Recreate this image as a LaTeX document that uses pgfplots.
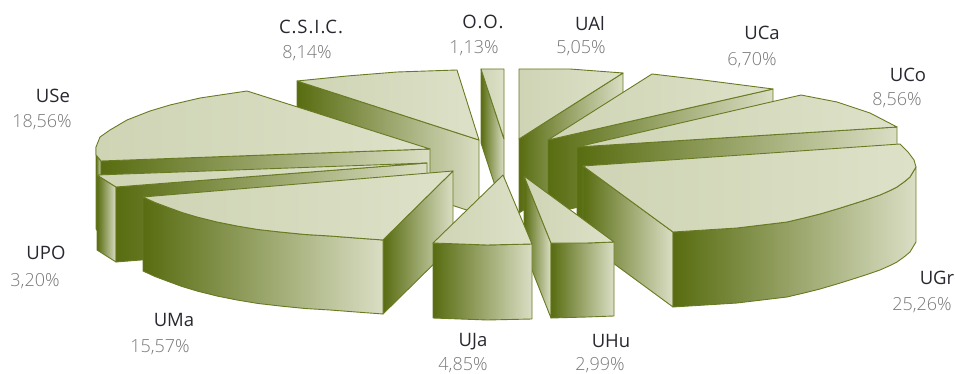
\documentclass[border=0pt]{standalone}
\usepackage{pgfplots}
\pgfplotsset{compat=1.18}
\usepackage{fontspec}
\setmainfont{Open Sans}
\newfontfamily\thin{Open Sans Light}
\definecolor{edge}{RGB}{104,122,34}
\definecolor{wdark}{RGB}{88,108,16}
\definecolor{wmid}{RGB}{142,156,88}
\definecolor{wlight}{RGB}{218,222,196}
\definecolor{tleft}{RGB}{206,212,180}
\definecolor{tright}{RGB}{221,225,200}
\definecolor{lab}{RGB}{40,40,48}
\definecolor{pct}{RGB}{120,120,120}
\pgfplotsset{
  top/.style={draw=edge,line width=0.9pt,line join=round,left color=tleft,right color=tright},
  wall/.style={draw=edge,line width=0.9pt,line join=round,left color=wdark,middle color=wmid,right color=wlight},
}
\newcommand{\slab}[6]{%
  \node[text=lab,font=\fontsize{18.5}{20}\selectfont,inner sep=0pt] at (axis cs:#1,#2) {#3};
  \node[text=pct,font=\thin\fontsize{18}{20}\selectfont,inner sep=0pt] at (axis cs:#4,#5) {#6};}
\begin{document}
\begin{tikzpicture}
\clip (0,0) rectangle (955pt,374pt);
\begin{axis}[
  at={(0,0)},anchor=south west,
  scale only axis,width=955pt,height=374pt,
  xmin=0,xmax=955,ymin=0,ymax=374,y dir=reverse,
  hide axis,clip=false,
]
% C.S.I.C.
\addplot[wall] coordinates {(297,81)(479,140)(479,214)(297,155)} --cycle;
\addplot[top] coordinates {(297,81)(347,76)(397,72)(457,70)(479,140)} --cycle;
% O.O.
\addplot[wall] coordinates {(481,69)(504,139)(504,213)(481,143)} --cycle;
\addplot[top] coordinates {(481,69)(504,69)(504,139)} --cycle;
% UAl
\addplot[wall] coordinates {(519,139)(623,73)(623,147)(519,213)} --cycle;
\addplot[top] coordinates {(519,69)(570,69)(623,73)(519,139)} --cycle;
% USe
\addplot[wall] coordinates {(96,147)(96,155)(101,161)(101,235)(96,229)(96,221)} --cycle;
\addplot[wall] coordinates {(101,161)(430,149)(430,223)(101,235)} --cycle;
\addplot[top] coordinates {(247,91)(200,98)(170,105)(150,111)(127,120)(110,130)(100,137)(96,147)(96,155)(101,161)(430,149)} --cycle;
% UCa
\addplot[wall] coordinates {(548,140)(773,89)(773,163)(548,214)} --cycle;
\addplot[top] coordinates {(652,74)(703,80)(773,89)(548,140)} --cycle;
% UCo
\addplot[wall] coordinates {(577,147)(897,127)(897,201)(577,221)} --cycle;
\addplot[top] coordinates {(801,95)(837,102)(870,113)(897,127)(577,147)} --cycle;
% UPO
\addplot[wall] coordinates {(97,175)(116,187)(116,262)(97,250)} --cycle;
\addplot[wall] coordinates {(116,187)(427,163)(427,237)(116,262)} --cycle;
\addplot[top] coordinates {(97,175)(427,163)(116,187)} --cycle;
% UMa
\addplot[wall] coordinates {(383,240)(453,171)(453,245)(383,314)} --cycle;
\addplot[wall] coordinates {(143,197)(155,202.5)(167,207)(182,212.5)(197,217)(217,222)(237,226)(258,229.5)(280,232)(305,234.5)(330,236)(356,238)(383,240)
  (383,314)(356,312)(330,310)(305,308.5)(280,306)(258,303.5)(237,300)(217,296)(197,291)(182,286.5)(167,281)(155,276.5)(143,271)} --cycle;
\addplot[top] coordinates {(143,197)(155,202.5)(167,207)(182,212.5)(197,217)(217,222)(237,226)(258,229.5)(280,232)(305,234.5)(330,236)(356,238)(383,240)(453,171)} --cycle;
% UGr
\addplot[wall] coordinates {(583,166)(673,232)(673,307)(583,241)} --cycle;
\addplot[wall] coordinates {(673,232)(705,230)(737,228)(762,225)(787,222)(804,218)(820,214)(837,209)(853,204)(867,199.5)(880,195)(889,191)(897,187)(904,182)(910,177)(913,172)(916,167)
  (916,242)(913,247)(910,252)(904,257)(897,262)(889,266)(880,270)(867,274.5)(853,279)(837,284)(820,289)(804,293)(787,297)(762,300)(737,303)(705,305)(673,307)} --cycle;
\addplot[top] coordinates {(583,166)(900,144)(908,152)(914,160)(916,167)(913,172)(910,177)(904,182)(897,187)(889,191)(880,195)(867,199.5)(853,204)(837,209)(820,214)(804,218)(787,222)(762,225)(737,228)(705,230)(673,232)} --cycle;
% UHu
\addplot[wall] coordinates {(524,176)(551,243)(551,318)(524,250)} --cycle;
\addplot[wall] coordinates {(551,243)(587,243)(614,242)(614,316)(587,317)(551,318)} --cycle;
\addplot[top] coordinates {(524,176)(551,243)(587,243)(614,242)} --cycle;
% UJa
\addplot[wall] coordinates {(433,243)(487,245)(532,244)(532,319)(487,320)(433,318)} --cycle;
\addplot[top] coordinates {(503,175)(433,243)(487,245)(532,244)} --cycle;
% labels
\slab{311}{27}{\addfontfeature{LetterSpace=5}C.S.I.C.}{307}{53}{8,14\%}
\slab{483}{22}{\addfontfeature{LetterSpace=9}O.O.}{474}{48}{1,13\%}
\slab{590}{24}{UAl}{581}{48}{5,05\%}
\slab{762}{33}{UCa}{752}{60}{6,70\%}
\slab{908}{75}{UCo}{897}{100}{8,56\%}
\slab{53}{96}{USe}{42}{122}{18,56\%}
\slab{46}{253}{UPO}{35}{281}{3,20\%}
\slab{174}{320}{UMa}{160}{347}{15,57\%}
\slab{473}{342}{UJa}{463}{365}{4,85\%}
\slab{611}{341}{UHu}{600}{365}{2,99\%}
\slab{937}{278}{UGr}{922}{305}{25,26\%}
\end{axis}
\end{tikzpicture}
\end{document}
